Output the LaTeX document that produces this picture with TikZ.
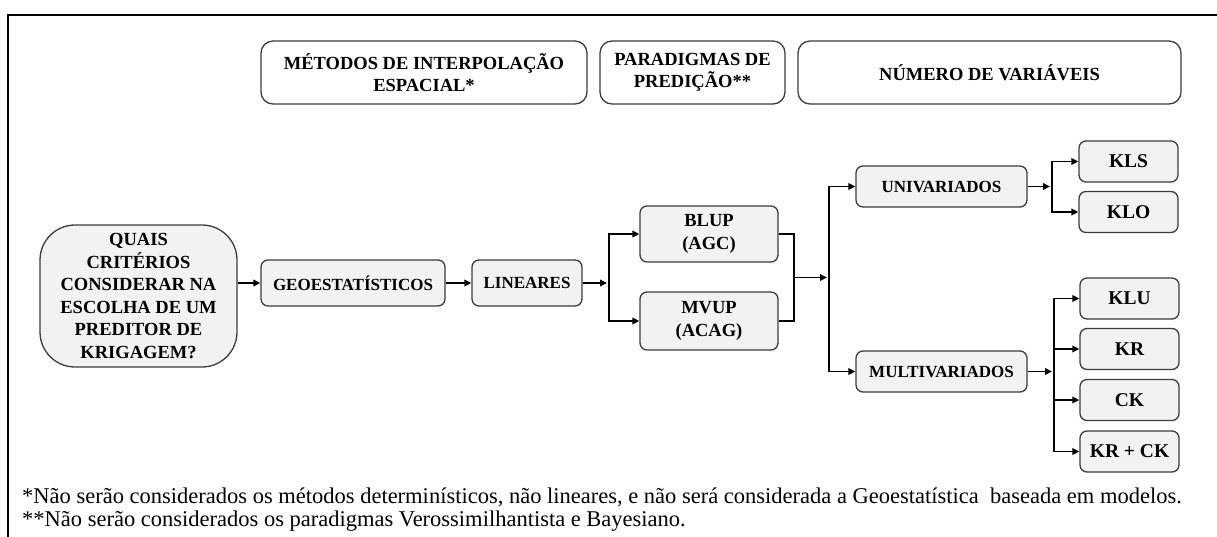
\documentclass[tikz,border=0pt]{standalone}
\usepackage{fontspec}
\setmainfont{Liberation Serif}
\usetikzlibrary{arrows.meta}
\definecolor{boxborder}{HTML}{3C3C3C}
\definecolor{boxfill}{HTML}{F2F2F2}
\begin{document}
\begin{tikzpicture}[x=1pt,y=-1pt,
  box/.style={draw=boxborder, fill=boxfill, line width=1.3pt, rounded corners=7pt,
    align=center, inner sep=0pt, font=\bfseries\fontsize{17}{22}\selectfont},
  head/.style={box, fill=white, rounded corners=12pt, minimum height=63pt,
    font=\bfseries\fontsize{18.5}{22}\selectfont},
  big/.style={font=\bfseries\fontsize{18.5}{22.5}\selectfont},
  kbox/.style={box, minimum width=99pt, minimum height=41pt, font=\bfseries\fontsize{19.5}{22}\selectfont},
  conn/.style={line width=1.8pt, black},
  arr/.style={conn, -{Triangle[length=7pt,width=6.5pt]}},
  note/.style={anchor=base west, inner sep=0pt, font=\fontsize{22.5}{23}\selectfont}
]
\useasboundingbox (0,0) rectangle (1217,536);
% frame
\draw[line width=2.4pt] (8,548) -- (8,15) -- (1230,15);

% headers
\node[head, minimum width=326pt] (h1) at (424,72.5) {MÉTODOS DE INTERPOLAÇÃO\\ESPACIAL*};
\node[head, minimum width=185pt] (h2) at (692.5,72.5) {PARADIGMAS DE\\PREDIÇÃO**};
\node[head, minimum width=383pt] (h3) at (989.5,72.5) {NÚMERO DE VARIÁVEIS};

% main flow
\node[box, big, rounded corners=35pt, minimum width=197pt, minimum height=142pt] (q) at (138.5,296)
  {QUAIS\\CRITÉRIOS\\CONSIDERAR NA\\ESCOLHA DE UM\\PREDITOR DE\\KRIGAGEM?};
\node[box, minimum width=184pt, minimum height=46pt] (geo) at (353,283) {GEOESTATÍSTICOS};
\node[box, minimum width=110pt, minimum height=46pt] (lin) at (527,283) {LINEARES};
\node[box, big, minimum width=138pt, minimum height=56pt] (blup) at (709,234) {BLUP\\(AGC)};
\node[box, big, minimum width=138pt, minimum height=58pt] (mvup) at (709,321) {MVUP\\(ACAG)};
\node[box, minimum width=171pt, minimum height=41pt] (univ) at (941.5,186.5) {UNIVARIADOS};
\node[box, minimum width=171pt, minimum height=41pt] (multi) at (941.5,371.5) {MULTIVARIADOS};
\node[kbox] (kls) at (1128.5,161.5) {KLS};
\node[kbox] (klo) at (1128.5,212) {KLO};
\node[kbox] (klu) at (1129.5,298.5) {KLU};
\node[kbox] (kr) at (1129.5,349) {KR};
\node[kbox] (ck) at (1129.5,400) {CK};
\node[kbox] (krck) at (1129.5,451.5) {KR + CK};

% junction points
\coordinate (f1) at (609,283);
\coordinate (m1) at (794,277.5);
\coordinate (f2) at (829,277.5);
\coordinate (f3) at (1052,186.5);
\coordinate (f4) at (1054,371.5);

% connectors
\draw[arr] (q.east |- geo.west) -- (geo.west);
\draw[arr] (geo.east) -- (lin.west);
\draw[arr, shorten >=2pt] (lin.east) -- (f1);
\draw[arr] (f1) |- (blup.west);
\draw[arr] (f1) |- (mvup.west);
\draw[conn] (blup.east) -| (m1) |- (mvup.east);
\draw[arr, shorten >=2pt] (m1) -- (f2);
\draw[arr] (f2) |- (univ.west);
\draw[arr] (f2) |- (multi.west);
\draw[arr, shorten >=2pt] (univ.east) -- (f3);
\draw[arr] (f3) |- (kls.west);
\draw[arr] (f3) |- (klo.west);
\draw[arr, shorten >=2pt] (multi.east) -- (f4);
\draw[arr] (f4) |- (klu.west);
\draw[arr] (f4) |- (kr.west);
\draw[arr] (f4) |- (ck.west);
\draw[arr] (f4) |- (krck.west);

% notes
\node[note] (n1) at (22,503) {*Não serão considerados os métodos determinísticos, não lineares, e não será considerada a Geoestatística\ \ baseada em modelos.};
\node[note] (n2) at (22,526) {**Não serão considerados os paradigmas Verossimilhantista e Bayesiano.};
\end{tikzpicture}
\end{document}
